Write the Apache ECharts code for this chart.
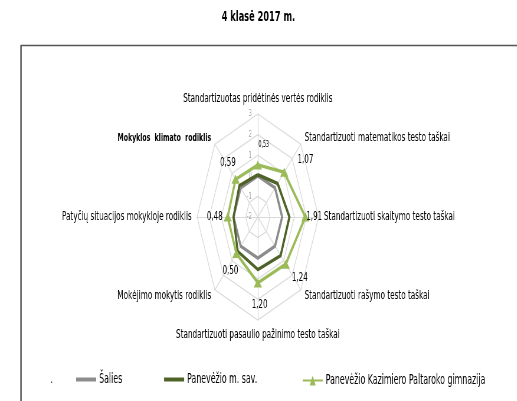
<!DOCTYPE html>
<html>
<head>
<meta charset="utf-8">
<script src="https://cdn.jsdelivr.net/npm/echarts@6/dist/echarts.min.js"></script>
<style>
  body { margin: 0; background: #fff; }
  #wrap { width: 517px; height: 401px; overflow: hidden; position: relative; }
  /* the original picture is squeezed sideways, so draw wide and squeeze */
  #chart { width: 876px; height: 401px; transform: scaleX(0.59); transform-origin: 0 0; }
</style>
</head>
<body>
<div id="wrap"><div id="chart"></div></div>
<script>
// rodikliai, pagal laikrodžio rodyklę nuo viršaus
var indicators = [
  'Standartizuotas pridėtinės vertės rodiklis',
  'Standartizuoti matematikos testo taškai',
  'Standartizuoti skaitymo testo taškai',
  'Standartizuoti rašymo testo taškai',
  'Standartizuoti pasaulio pažinimo testo taškai',
  'Mokėjimo mokytis rodiklis',
  'Patyčių situacijos mokykloje rodiklis',
  'Mokyklos  klimato  rodiklis'
];
var seriesNames = ['Šalies', 'Panevėžio m. sav.', 'Panevėžio Kazimiero Paltaroko gimnazija'];
var salies = [0, 0, 0, 0, 0, 0, 0, 0];
var savivaldybe = [0.05, 0.3, 0.6, 0.65, 0.55, 0.35, 0.0, 0.15];
var gimnazija = [0.53, 1.07, 1.91, 1.24, 1.20, 0.50, 0.48, 0.59];
var axisMin = -2, axisMax = 3, axisStep = 1;

// echarts radar eina prieš laikrodžio rodyklę, todėl perrikiuojam
var order = [0, 7, 6, 5, 4, 3, 2, 1];
function reorder(arr) {
  return order.map(function (k) { return arr[k]; });
}

// reikšmių etikečių poslinkiai (tik stilius)
var labelOffsets = [[10, -20], [36, -12], [15, 0], [24, 14], [3, 22], [-10, 17], [-22, 0], [-13, -16]];
var labelSizes = [8, 12, 12, 12, 12, 12, 12, 12];

var chart = echarts.init(document.getElementById('chart'));

var indicatorOpts = reorder(indicators).map(function (n, j) {
  var o = { name: n, min: axisMin, max: axisMax };
  if (j === 0) {
    o.axisLabel = { show: true };
  }
  return o;
});

var series = [{
  type: 'radar',
  name: seriesNames[0],
  symbol: 'none',
  lineStyle: { color: '#8c8c8c', width: 3.5 },
  itemStyle: { color: '#8c8c8c' },
  z: 2,
  data: [{ name: seriesNames[0], value: reorder(salies) }]
}, {
  type: 'radar',
  name: seriesNames[1],
  symbol: 'none',
  lineStyle: { color: '#4f6228', width: 3.5 },
  itemStyle: { color: '#4f6228' },
  z: 3,
  data: [{ name: seriesNames[1], value: reorder(savivaldybe) }]
}, {
  type: 'radar',
  name: seriesNames[2],
  symbol: 'triangle',
  symbolSize: [14, 9],
  lineStyle: { color: '#9bbb59', width: 3.5 },
  itemStyle: { color: '#9bbb59' },
  z: 4,
  data: [{ name: seriesNames[2], value: reorder(gimnazija) }]
}];

// kiekvienai viršūnei atskira (nematoma) serija su savo etiketės vieta
order.forEach(function (k, j) {
  series.push({
    type: 'radar',
    name: 'lbl' + k,
    silent: true,
    symbol: 'circle',
    symbolSize: 1,
    lineStyle: { opacity: 0 },
    itemStyle: { color: 'transparent' },
    z: 5,
    label: {
      show: true,
      position: 'inside',
      offset: labelOffsets[k],
      fontSize: labelSizes[k],
      fontFamily: 'DejaVu Sans',
      color: '#000',
      formatter: function (p) {
        var idx = p.dimensionIndex;
        var ok = idx != null ? idx === j : p.value === gimnazija[k];
        return ok ? gimnazija[k].toFixed(2).replace('.', ',') : '';
      }
    },
    data: [{ value: reorder(gimnazija) }]
  });
});

var option = {
  backgroundColor: '#fff',
  animation: false,
  title: {
    text: '4 klasė 2017 m.',
    left: 'center',
    top: 5,
    textStyle: { fontFamily: 'DejaVu Sans', fontSize: 14, fontWeight: 'bold', color: '#000' }
  },
  graphic: [{
    type: 'line',
    shape: { x1: 35, y1: 45.5, x2: 876, y2: 45.5 },
    style: { stroke: '#555', lineWidth: 1.5 }
  }, {
    type: 'line',
    shape: { x1: 35.6, y1: 45, x2: 35.6, y2: 401 },
    style: { stroke: '#555', lineWidth: 2.5 }
  }, {
    type: 'text',
    left: 86,
    top: 374,
    style: { text: '.', fontSize: 12, fill: '#000' }
  }],
  legend: [{
    data: [seriesNames[0], seriesNames[1]],
    left: 124,
    top: 368,
    icon: 'rect',
    itemWidth: 34,
    itemHeight: 4,
    itemGap: 71,
    textStyle: { fontFamily: 'DejaVu Sans', fontSize: 13.3, color: '#000' }
  }, {
    data: [{ name: seriesNames[2], icon: 'path://M0,4H34V6H0Z M17,0L22,10H12Z' }],
    left: 508,
    top: 369,
    itemWidth: 34,
    itemHeight: 10,
    textStyle: { fontFamily: 'DejaVu Sans', fontSize: 13.3, color: '#000' }
  }],
  radar: {
    center: [437, 217],
    radius: 103,
    startAngle: 90,
    shape: 'polygon',
    splitNumber: (axisMax - axisMin) / axisStep,
    indicator: indicatorOpts,
    axisName: {
      color: '#000',
      fontFamily: 'DejaVu Sans',
      fontSize: 12.3,
      formatter: function (n) {
        return n === indicators[7] ? '{b|' + n + '}' : n;
      },
      rich: {
        b: { fontWeight: 'bold', fontSize: 10.5, fontFamily: 'DejaVu Sans', color: '#000' }
      }
    },
    nameGap: 9,
    axisLine: { lineStyle: { color: '#d9d9d9', width: 1.2 } },
    splitLine: { lineStyle: { color: '#d9d9d9', width: 1.2 } },
    splitArea: { show: false },
    axisTick: { show: false },
    axisLabel: {
      show: false,
      color: '#a6a6a6',
      fontSize: 9,
      fontFamily: 'DejaVu Sans',
      margin: 10
    }
  },
  series: series
};

chart.setOption(option);
</script>
</body>
</html>
